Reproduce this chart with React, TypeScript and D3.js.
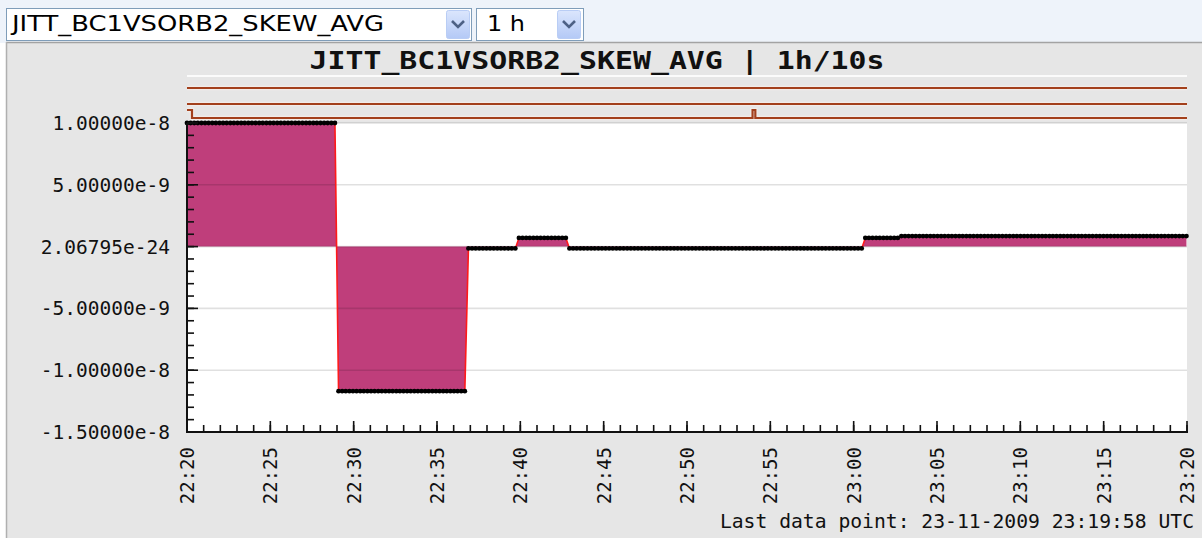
import React from "react";
import * as d3 from "d3";

// ---------- data ----------
const SIGNAL = "JITT_BC1VSORB2_SKEW_AVG";
const RANGE_LABEL = "1 h";
const TITLE = "JITT_BC1VSORB2_SKEW_AVG | 1h/10s";
const FOOTER = "Last data point: 23-11-2009 23:19:58 UTC";

const startTime = new Date(Date.UTC(2009, 10, 23, 22, 20, 0));
const endTime = new Date(Date.UTC(2009, 10, 23, 23, 20, 0));
const lastPointSec = 3598; // 23:19:58
const sampleCount = 278;

// piecewise-constant readings (run-length encoded: value, number of samples)
const runValues = [1e-8, -1.17e-8, -1.5e-10, 7e-10, -1.5e-10, 7e-10, 8.5e-10];
const runLengths = [42, 36, 14, 14, 82, 10, 80];

const yTickValues = [1e-8, 5e-9, 2.06795e-24, -5e-9, -1e-8, -1.5e-8];
const yTickLabels = [
  "1.00000e-8",
  "5.00000e-9",
  "2.06795e-24",
  "-5.00000e-9",
  "-1.00000e-8",
  "-1.50000e-8",
];
const xTickLabels = [
  "22:20", "22:25", "22:30", "22:35", "22:40", "22:45", "22:50",
  "22:55", "23:00", "23:05", "23:10", "23:15", "23:20",
];

// status bars above the plot: [start s, end s] intervals in "raised" state
const statusRow1: number[][] = [];
const statusRow2: number[][] = [];
const statusRow3: number[][] = [[0, 18], [2036, 2046]];

// ---------- layout ----------
const W = 1202;
const H = 538;
const L = 187;
const R = 1187;
const T = 123;
const B = 432;
const MONO = "'DejaVu Sans Mono', monospace";

export default function App() {
  const x = d3.scaleUtc().domain([startTime, endTime]).range([L, R]);
  const y = d3.scaleLinear().domain([-1.5e-8, 1e-8]).range([B, T]);

  const values: number[] = runValues.flatMap((v, i) =>
    new Array(runLengths[i]).fill(v)
  );
  const times = values.map(
    (_, i) =>
      new Date(startTime.getTime() + (i * lastPointSec * 1000) / (sampleCount - 1))
  );
  const pts = values.map((v, i) => ({ t: times[i], v }));

  const line = d3
    .line<{ t: Date; v: number }>()
    .x((d) => x(d.t))
    .y((d) => y(d.v));
  const area = d3
    .area<{ t: Date; v: number }>()
    .x((d) => x(d.t))
    .y0(y(0))
    .y1((d) => y(d.v));

  const minorY = d3.range(-15, 11).map((k) => k * 1e-9);
  const minuteTicks = d3.utcMinute.range(startTime, new Date(endTime.getTime() + 1));
  const majorX = d3.utcMinute.every(5)!.range(startTime, new Date(endTime.getTime() + 1));

  const rowYs = [88, 104, 118];
  const rows = [statusRow1, statusRow2, statusRow3];
  const statusPath = (events: number[][], base: number) => {
    const tx = (s: number) => x(new Date(startTime.getTime() + s * 1000));
    const hi = base - 8;
    const stepPts: [number, number][] = [];
    const sorted = events.slice().sort((a, b) => a[0] - b[0]);
    sorted.forEach(([s, e], k) => {
      if (k === 0 && s <= 0) {
        stepPts.push([L, hi]);
      } else {
        if (stepPts.length === 0) stepPts.push([L, base]);
        stepPts.push([tx(s), base]);
        stepPts.push([tx(s), hi]);
      }
      stepPts.push([tx(e), hi]);
      stepPts.push([tx(e), base]);
    });
    if (stepPts.length === 0) stepPts.push([L, base]);
    stepPts.push([R, base]);
    return d3.line()(stepPts) || "";
  };

  return (
    <div style={{ position: "absolute", left: 0, top: 0 }}>
      <svg width={W} height={H} style={{ display: "block" }}>
        <defs>
          <linearGradient id="btn" x1="0" y1="0" x2="0" y2="1">
            <stop offset="0" stopColor="#dbe6fd" />
            <stop offset="1" stopColor="#b4c9f6" />
          </linearGradient>
        </defs>
        {/* top strip */}
        <rect x={0} y={0} width={W} height={43} fill="#eef3fa" />
        {/* dropdown 1 */}
        <rect x={6.5} y={8.5} width={465} height={32} fill="#fff" stroke="#7f9db9" />
        <text
          x={12}
          y={31}
          fontFamily="'DejaVu Sans', Verdana, sans-serif"
          fontSize={22}
          fill="#000"
          textLength={372}
          lengthAdjust="spacingAndGlyphs"
        >
          {SIGNAL}
        </text>
        <rect x={446.5} y={10.5} width={23} height={28} rx={2} fill="url(#btn)" stroke="#b9cdf5" />
        <path d="M452,21 L458,27 L464,21" fill="none" stroke="#4d6185" strokeWidth={2.6} />
        {/* dropdown 2 */}
        <rect x={476.5} y={8.5} width={107} height={32} fill="#fff" stroke="#7f9db9" />
        <text
          x={487}
          y={31}
          fontFamily="'DejaVu Sans', Verdana, sans-serif"
          fontSize={22}
          fill="#000"
          textLength={38}
          lengthAdjust="spacingAndGlyphs"
        >
          {RANGE_LABEL}
        </text>
        <rect x={557.5} y={10.5} width={23} height={28} rx={2} fill="url(#btn)" stroke="#b9cdf5" />
        <path d="M563,21 L569,27 L575,21" fill="none" stroke="#4d6185" strokeWidth={2.6} />

        {/* panel */}
        <rect x={6} y={42} width={W - 6} height={H - 42} fill="#e6e6e6" />
        <line x1={6} y1={42.5} x2={W} y2={42.5} stroke="#a3a3a3" strokeWidth={1.5} />
        <line x1={6.5} y1={42} x2={6.5} y2={H} stroke="#b0b0b0" strokeWidth={1.5} />

        {/* title */}
        <text
          x={597}
          y={69}
          textAnchor="middle"
          fontFamily={MONO}
          fontSize={24}
          fontWeight="bold"
          fill="#111"
          textLength={575}
          lengthAdjust="spacingAndGlyphs"
        >
          {TITLE}
        </text>

        {/* status bars */}
        <line x1={L} y1={76} x2={R} y2={76} stroke="#fbfbfb" strokeWidth={2} />
        {rows.map((ev, i) => (
          <g key={i}>
            <path d={statusPath(ev, rowYs[i])} fill="none" stroke="#f2ece9" strokeWidth={4.5} />
            <path d={statusPath(ev, rowYs[i])} fill="none" stroke="#a3401c" strokeWidth={2.2} />
          </g>
        ))}

        {/* plot area */}
        <rect x={L} y={T} width={R - L} height={B - T} fill="#fff" />
        <path d={area(pts) || ""} fill="#bf3e7b" />
        {yTickValues.map((v, i) => (
          <line
            key={i}
            x1={L}
            x2={R}
            y1={y(v)}
            y2={y(v)}
            stroke="rgba(0,0,0,0.12)"
            strokeWidth={1.6}
          />
        ))}
        <path d={line(pts) || ""} fill="none" stroke="#ff1a1a" strokeWidth={1.6} />
        {pts.map((d, i) => (
          <circle key={i} cx={x(d.t)} cy={y(d.v)} r={2.4} fill="#000" />
        ))}

        {/* axes */}
        <line x1={L} y1={T} x2={L} y2={B + 1} stroke="#111" strokeWidth={2} />
        <line x1={L - 1} y1={B} x2={R + 1} y2={B} stroke="#111" strokeWidth={2} />
        {minorY.map((v, i) => (
          <line key={i} x1={L} x2={L + 7} y1={y(v)} y2={y(v)} stroke="#111" strokeWidth={1.6} />
        ))}
        {yTickValues.map((v, i) => (
          <line key={i} x1={L} x2={L + 11} y1={y(v)} y2={y(v)} stroke="#111" strokeWidth={1.6} />
        ))}
        {minuteTicks.map((t, i) => (
          <line key={i} x1={x(t)} x2={x(t)} y1={B} y2={B - 7} stroke="#111" strokeWidth={1.6} />
        ))}
        {majorX.map((t, i) => (
          <line key={i} x1={x(t)} x2={x(t)} y1={B} y2={B - 11} stroke="#111" strokeWidth={1.6} />
        ))}

        {/* y labels */}
        {yTickValues.map((v, i) => (
          <text
            key={i}
            x={170}
            y={y(v)}
            dy="0.36em"
            textAnchor="end"
            fontFamily={MONO}
            fontSize={19.5}
            fill="#111"
          >
            {yTickLabels[i]}
          </text>
        ))}
        {/* x labels */}
        {majorX.map((t, i) => (
          <text
            key={i}
            transform={`translate(${x(t)},447) rotate(-90)`}
            dy="0.36em"
            textAnchor="end"
            fontFamily={MONO}
            fontSize={19}
            fill="#111"
          >
            {xTickLabels[i]}
          </text>
        ))}

        {/* footer */}
        <text
          x={1194}
          y={528}
          textAnchor="end"
          fontFamily={MONO}
          fontSize={19.7}
          fill="#111"
        >
          {FOOTER}
        </text>
      </svg>
    </div>
  );
}
